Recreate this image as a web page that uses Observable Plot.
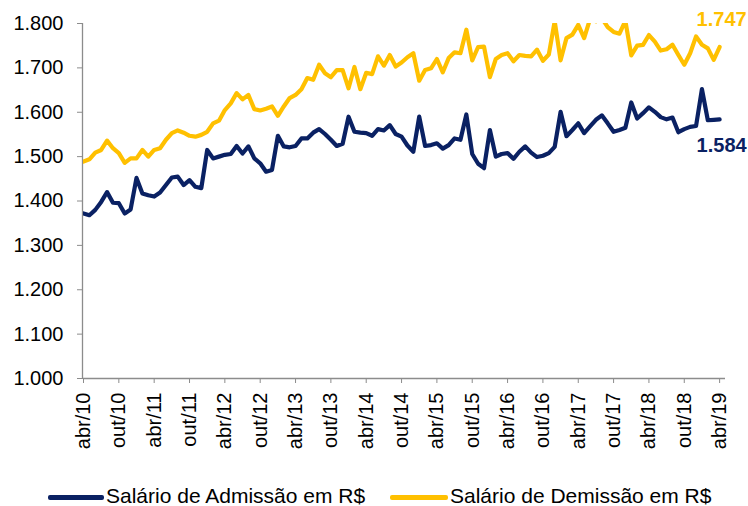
<!DOCTYPE html>
<html>
<head>
<meta charset="utf-8">
<script src="https://cdn.jsdelivr.net/npm/d3@7"></script>
<script src="https://cdn.jsdelivr.net/npm/@observablehq/plot@0.6"></script>
<style>
  html, body { margin: 0; padding: 0; background: #fff; }
  #wrap { position: relative; width: 748px; height: 506px; font-family: "Liberation Sans", Arial, sans-serif; }
  #legend { position: absolute; left: 0; top: 468px; width: 748px; height: 38px; }
  .sw { position: absolute; height: 5px; top: 27px; border-radius: 2px; }
  .lt { position: absolute; top: 17px; font-size: 21px; line-height: 21px; height: 21px; color: #000; white-space: nowrap; }
</style>
</head>
<body>
<div id="wrap"><div id="chart"></div>
  <div id="legend">
    <div class="sw" style="left:48px;width:56px;background:#0A2163"></div>
    <div class="lt" style="left:106px">Salário de Admissão em R$</div>
    <div class="sw" style="left:390px;width:58px;background:#FFC000"></div>
    <div class="lt" style="left:450px">Salário de Demissão em R$</div>
  </div>
</div>
<script>
const monthNames = ["jan","fev","mar","abr","mai","jun","jul","ago","set","out","nov","dez"];
// categories: monthly, abr/10 .. abr/19
const categories = d3.range(109).map(i => monthNames[(3 + i) % 12] + "/" + (10 + Math.floor((3 + i) / 12)));
const tickIdx = d3.range(0, 109, 6);
const yTicks = [1000, 1100, 1200, 1300, 1400, 1500, 1600, 1700, 1800];

const admissao = [
  1372,1368,1380,1398,1420,1396,1395,1372,1381,1452,1417,1413,
  1410,1419,1436,1453,1455,1436,1447,1432,1429,1515,1496,1500,
  1504,1506,1524,1507,1523,1496,1485,1466,1470,1547,1523,1521,
  1524,1541,1541,1554,1562,1551,1538,1524,1529,1590,1556,1554,
  1553,1547,1562,1559,1571,1551,1545,1525,1511,1590,1524,1526,
  1530,1518,1526,1541,1538,1595,1506,1484,1474,1560,1500,1506,
  1508,1495,1511,1523,1509,1499,1502,1508,1522,1601,1546,1560,
  1575,1553,1568,1583,1593,1575,1556,1560,1565,1622,1586,1598,
  1611,1601,1589,1584,1588,1555,1562,1567,1569,1652,1582,1583,
  1584
];
const demissao = [
  1489,1494,1509,1515,1536,1519,1508,1486,1496,1496,1515,1500,
  1515,1519,1538,1553,1559,1554,1547,1545,1549,1556,1575,1581,
  1605,1620,1643,1629,1639,1607,1604,1608,1613,1592,1613,1632,
  1639,1652,1677,1673,1707,1688,1679,1695,1695,1654,1702,1652,
  1689,1686,1726,1705,1729,1703,1712,1724,1733,1671,1695,1699,
  1720,1690,1722,1735,1733,1786,1717,1747,1748,1679,1720,1729,
  1733,1715,1729,1727,1726,1741,1716,1730,1805,1717,1767,1775,
  1797,1767,1810,1805,1812,1792,1781,1777,1806,1728,1750,1752,
  1774,1759,1739,1742,1752,1729,1707,1733,1771,1752,1744,1718,
  1747
];

const navy = "#0A2163";
const gold = "#FFC000";
const grid = "#8C8C8C";
const fmt = v => d3.format(",.0f")(v).replace(/,/g, ".");
const last = admissao.length - 1;

const chart = Plot.plot({
  width: 748,
  height: 468,
  marginTop: 23,
  marginLeft: 83,
  marginRight: 23,
  marginBottom: 90,
  style: { fontFamily: "'Liberation Sans', Arial, sans-serif", fontSize: "20px", background: "#fff", overflow: "visible" },
  x: { type: "linear", domain: [0, 109], axis: null },
  y: { domain: [1000, 1800], axis: null },
  marks: [
    Plot.axisY({ ticks: yTicks, tickFormat: fmt, tickSize: 6, tickPadding: 14, stroke: grid, fill: "#000", fontSize: 20, label: null }),
    Plot.axisX({ ticks: tickIdx, tickFormat: i => categories[i], tickRotate: -90, tickSize: 5, tickPadding: 9, stroke: grid, fill: "#000", fontSize: 20, label: null }),
    Plot.ruleX([0], { stroke: grid, strokeWidth: 1.3, dx: -1 }),
    Plot.ruleY([1000], { stroke: grid, strokeWidth: 1.3 }),
    Plot.lineY(demissao, { x: (d, i) => i, y: d => d, stroke: gold, strokeWidth: 4.2, strokeLinejoin: "round", clip: true }),
    Plot.lineY(admissao, { x: (d, i) => i, y: d => d, stroke: navy, strokeWidth: 4.2, strokeLinejoin: "round", clip: true }),
    Plot.text([demissao[last]], { x: () => last, y: d => d, text: d => fmt(d), fill: gold, fontWeight: "bold", fontSize: 20, textAnchor: "start", dx: -23, dy: -27 }),
    Plot.text([admissao[last]], { x: () => last, y: d => d, text: d => fmt(d), fill: navy, fontWeight: "bold", fontSize: 20, textAnchor: "start", dx: -23, dy: 26 })
  ]
});
document.getElementById("chart").appendChild(chart);
</script>
</body>
</html>
